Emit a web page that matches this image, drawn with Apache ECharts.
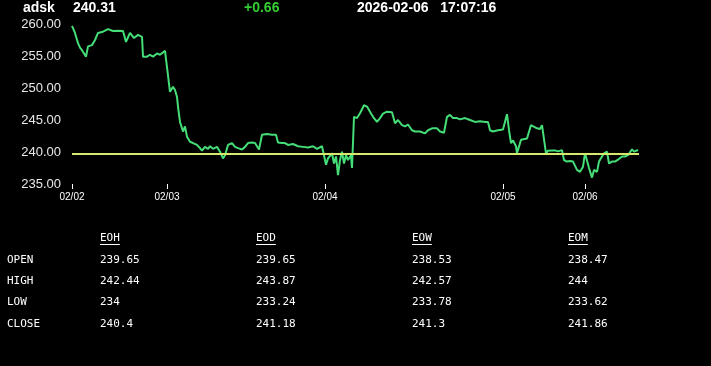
<!DOCTYPE html>
<html>
<head>
<meta charset="utf-8">
<script src="https://cdn.jsdelivr.net/npm/echarts@6/dist/echarts.min.js"></script>
<style>
html,body{margin:0;padding:0;background:#000;}
#chart{width:711px;height:366px;}
</style>
</head>
<body>
<div id="chart"></div>
<script>
// ---- data ----
var symbol = 'adsk';
var lastPrice = '240.31';
var change = '+0.66';
var stamp = '2026-02-06   17:07:16';
var refLevel = 239.65;

// time index (bar position) and price
var times = [0,3,6,8,10,12,14,16,20,23,26,31,36,41,46,51,54,58,62,66,70,71,75,78,81,85,88,93,95,98,101,103,105,106,108,110,111,113,115,118,121,125,128,130,133,136,138,141,145,148,151,153,156,160,163,166,170,173,176,180,183,185,187,190,195,200,204,206,210,213,216,221,226,231,236,241,245,250,252,254,256,260,262,264,266,268,270,272,274,276,279,280,282,285,288,292,295,298,301,305,308,311,315,320,323,326,330,333,336,340,343,348,353,356,360,365,368,372,375,378,381,385,388,393,398,403,408,413,416,418,421,426,431,433,435,437,439,441,444,445,447,449,451,455,457,459,461,465,468,470,471,474,476,480,483,486,490,492,495,498,501,505,508,511,513,515,517,520,522,525,527,530,532,535,537,540,543,546,550,553,556,560,562,564,566];
var prices = [259.7,258.6,257.0,256.3,255.9,256.2,254.9,256.5,256.7,257.5,258.6,258.8,259.2,258.9,258.95,258.9,257.2,258.6,257.8,258.3,258.0,254.9,254.9,255.2,254.9,255.4,255.2,255.8,255.8,249.4,250.2,249.7,248.6,247.1,244.7,244.5,243.2,244.0,242.4,241.6,241.4,241.1,240.6,240.2,240.8,240.5,240.9,240.5,240.8,240.05,239.0,239.5,241.1,241.4,240.8,240.6,240.4,240.8,241.4,241.5,241.4,241.6,240.4,242.7,242.8,242.7,242.7,241.5,241.4,241.4,241.1,241.25,240.9,240.8,240.7,240.9,240.5,240.9,240.9,238.0,239.0,239.8,238.2,239.3,236.4,238.75,240.05,238.2,239.5,238.75,239.5,237.5,245.5,245.3,246.05,247.3,247.1,246.3,245.5,244.7,245.3,246.0,246.3,246.2,244.5,245.0,244.2,244.0,244.3,243.4,243.2,243.2,242.9,243.4,243.7,243.7,243.2,243.0,245.5,245.8,245.3,245.3,245.1,245.3,245.0,244.7,244.8,244.7,244.7,243.4,243.2,243.4,243.5,243.7,245.9,243.4,241.4,241.8,240.9,239.8,239.8,241.9,241.9,242.1,241.9,244.2,244.2,243.7,243.6,244.2,244.4,239.8,240.2,240.25,240.25,240.1,240.3,238.75,238.5,238.6,238.5,237.2,236.9,237.7,239.8,239.9,237.5,236.0,237.2,236.9,238.5,239.3,239.8,240.05,238.2,238.5,238.5,238.8,239.3,239.3,239.5,240.4,240.05,240.3,240.31];

var dayTicks = [0,95,253,431,513];
var dayLabels = ['02/02','02/03','02/04','02/05','02/06'];
var timeEnd = 567;

var yTicks = [235,240,245,250,255,260];

var tableCols = ['EOH','EOD','EOW','EOM'];
var tableRows = ['OPEN','HIGH','LOW','CLOSE'];
var eohVals = ['239.65','242.44','234','240.4'];
var eodVals = ['239.65','243.87','233.24','241.18'];
var eowVals = ['238.53','242.57','233.78','241.3'];
var eomVals = ['238.47','244','233.62','241.86'];
var tableVals = [eohVals, eodVals, eowVals, eomVals];

// ---- chart ----
var chart = echarts.init(document.getElementById('chart'));
var lineData = times.map(function(t,i){ return [t, prices[i]]; });

var graphics = [];
var hdrFont = 'bold 14px Arial, "Liberation Sans", sans-serif';
graphics.push({type:'text', left:23, top:1, style:{text:symbol, fill:'#fff', font:hdrFont}});
graphics.push({type:'text', left:73, top:1, style:{text:lastPrice, fill:'#fff', font:hdrFont}});
graphics.push({type:'text', left:244, top:1, style:{text:change, fill:'#33cc33', font:hdrFont}});
graphics.push({type:'text', left:357, top:1, style:{text:stamp, fill:'#fff', font:hdrFont}});

var monoFont = '11px "DejaVu Sans Mono", "Liberation Mono", monospace';
var colX = [100,256,412,568];
var rowY = [260,281,302,324];
tableCols.forEach(function(c,ci){
  graphics.push({type:'text', x:colX[ci], y:238, style:{text:c, fill:'#fff', font:monoFont, textVerticalAlign:'middle'}});
  graphics.push({type:'line', shape:{x1:colX[ci], y1:244.5, x2:colX[ci]+c.length*6.6, y2:244.5}, style:{stroke:'#fff', lineWidth:1}});
  tableVals[ci].forEach(function(v,ri){
    graphics.push({type:'text', x:colX[ci], y:rowY[ri], style:{text:v, fill:'#fff', font:monoFont, textVerticalAlign:'middle'}});
  });
});
tableRows.forEach(function(r,ri){
  graphics.push({type:'text', x:7, y:rowY[ri], style:{text:r, fill:'#fff', font:monoFont, textVerticalAlign:'middle'}});
});

chart.setOption({
  backgroundColor:'#000',
  animation:false,
  grid:{left:72, right:72, top:24, bottom:182},
  xAxis:{
    type:'value', min:0, max:timeEnd,
    splitLine:{show:false},
    axisLine:{show:false},
    axisTick:{show:true, customValues:dayTicks, length:5, lineStyle:{color:'#fff', width:1}},
    axisLabel:{show:true, customValues:dayTicks, color:'#fff', fontSize:10, fontFamily:'Arial, "Liberation Sans", sans-serif', margin:8,
      formatter:function(v){ var i = dayTicks.indexOf(v); return i>=0 ? dayLabels[i] : ''; }}
  },
  yAxis:{
    type:'value', min:yTicks[0], max:yTicks[yTicks.length-1], interval:5,
    splitLine:{show:false},
    axisLine:{show:false},
    axisTick:{show:false},
    axisLabel:{color:'#e8e8e8', fontSize:13, fontFamily:'Arial, "Liberation Sans", sans-serif', margin:11,
      formatter:function(v){ return v.toFixed(2); }}
  },
  series:[
    {type:'line', data:lineData, showSymbol:false, smooth:false,
     lineStyle:{color:'#44dd77', width:2}, z:3,
     markLine:{silent:true, symbol:'none', label:{show:false},
       lineStyle:{color:'#d8e86a', width:2, type:'solid'},
       data:[{yAxis:refLevel}]}}
  ],
  graphic:graphics
});
</script>
</body>
</html>
